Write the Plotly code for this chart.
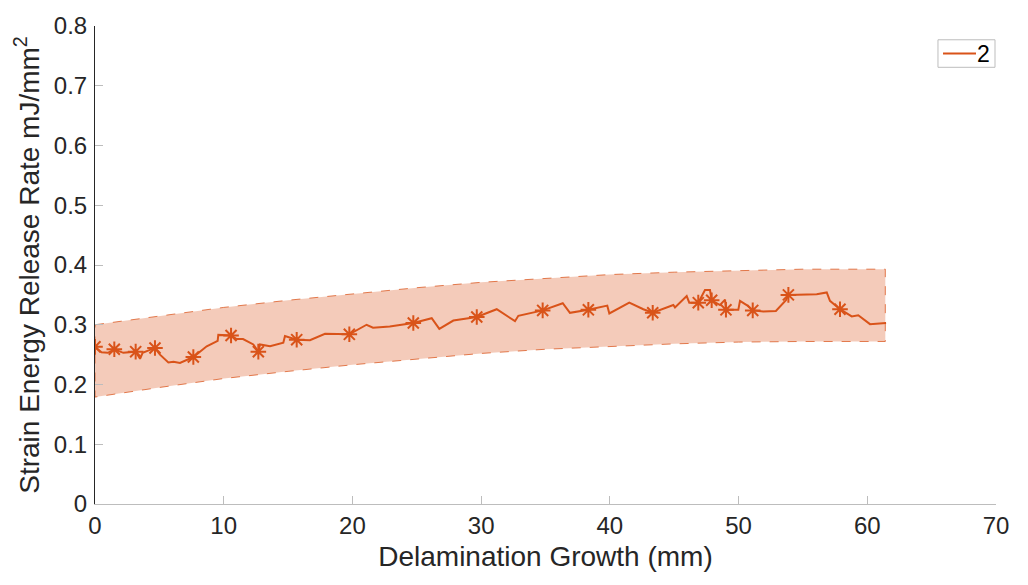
import plotly.graph_objects as go

# Band (upper / lower bounds)
band_x = [0, 5, 10, 15, 20, 25, 30, 35, 40, 45, 50, 55, 61.4]
band_upper = [0.300, 0.315, 0.329, 0.341, 0.352, 0.362, 0.371, 0.378, 0.384, 0.388, 0.391, 0.393, 0.393]
band_lower = [0.179, 0.195, 0.210, 0.222, 0.233, 0.243, 0.252, 0.259, 0.264, 0.268, 0.271, 0.272, 0.272]

# Measured series "2"
line_x = [0.0, 0.5, 1.0, 1.5, 2.2, 3.16, 3.5, 3.7, 4.27, 4.66, 5.05, 5.7, 6.1, 6.6, 7.64,
          8.68, 9.53, 9.58, 10.57, 11.0, 11.5, 12.3, 12.69, 12.82, 13.6, 14.63, 14.76, 15.67,
          16.7, 17.87, 19.76, 21.1, 21.6, 22.9, 24.73, 26.16, 26.75, 27.84, 29.66, 31.21,
          32.63, 32.89, 34.78, 36.34, 36.9, 38.33, 39.8, 39.96, 41.51, 42.6, 43.33, 44.93,
          45.06, 45.97, 46.17, 46.87, 47.39, 47.78, 47.91, 48.56, 48.95, 49.02, 49.98, 50.11,
          50.63, 51.1, 51.92, 52.9, 53.68, 53.87, 56.07, 56.85, 57.1, 57.88, 58.79, 59.3,
          60.21, 61.46]
line_y = [0.263, 0.254, 0.253, 0.259, 0.253, 0.255, 0.243, 0.253, 0.258, 0.261, 0.250, 0.237,
          0.238, 0.236, 0.246, 0.264, 0.273, 0.283, 0.282, 0.276, 0.276, 0.267, 0.255, 0.267,
          0.264, 0.270, 0.281, 0.275, 0.274, 0.285, 0.284, 0.300, 0.295, 0.297, 0.303, 0.311,
          0.293, 0.307, 0.313, 0.326, 0.306, 0.315, 0.324, 0.336, 0.320, 0.325, 0.332, 0.319,
          0.337, 0.326, 0.320, 0.333, 0.329, 0.348, 0.337, 0.337, 0.358, 0.358, 0.341, 0.333,
          0.342, 0.325, 0.325, 0.340, 0.333, 0.324, 0.322, 0.323, 0.341, 0.350, 0.351, 0.354,
          0.340, 0.326, 0.314, 0.316, 0.301, 0.303]

marker_x = [0.0, 1.5, 3.16, 4.66, 7.64, 10.57, 12.69, 15.67, 19.76, 24.73, 29.66, 34.78,
            38.33, 43.33, 46.87, 47.91, 49.02, 51.1, 53.87, 57.88]
marker_y = [0.263, 0.259, 0.255, 0.261, 0.246, 0.282, 0.255, 0.275, 0.284, 0.303, 0.313, 0.324,
            0.325, 0.320, 0.337, 0.341, 0.325, 0.324, 0.350, 0.326]

x_ticks = [0, 10, 20, 30, 40, 50, 60, 70]
y_ticks = [0, 0.1, 0.2, 0.3, 0.4, 0.5, 0.6, 0.7, 0.8]
y_tick_labels = ["0", "0.1", "0.2", "0.3", "0.4", "0.5", "0.6", "0.7", "0.8"]
legend_label = "2"

ORANGE = "#D95319"
FONT = "Liberation Sans, Arial, sans-serif"

fig = go.Figure()

poly_x = band_x + band_x[::-1] + [band_x[0]]
poly_y = band_upper + band_lower[::-1] + [band_upper[0]]
fig.add_trace(go.Scatter(
    x=poly_x, y=poly_y, mode="lines", fill="toself",
    fillcolor="rgba(217,83,25,0.3)",
    line=dict(color="rgba(217,83,25,0.75)", width=1, dash="dash"),
    showlegend=False, hoverinfo="skip"))

fig.add_trace(go.Scatter(
    x=line_x, y=line_y, mode="lines", name=legend_label,
    line=dict(color=ORANGE, width=2), showlegend=False))

fig.add_trace(go.Scatter(
    x=marker_x, y=marker_y, mode="markers", showlegend=False,
    marker=dict(symbol="asterisk-open", size=13, color=ORANGE,
                line=dict(color=ORANGE, width=2))))

# Legend box (compact, MATLAB-like)
fig.add_shape(type="rect", xref="paper", yref="paper",
              x0=0.9356, x1=0.9989, y0=0.9136, y1=0.9712,
              line=dict(color="#BDBDBD", width=1), fillcolor="white")
fig.add_shape(type="line", xref="paper", yref="paper",
              x0=0.9412, x1=0.9778, y0=0.9424, y1=0.9424,
              line=dict(color=ORANGE, width=2))
fig.add_annotation(xref="paper", yref="paper", x=0.9856, y=0.9424,
                   xanchor="center", yanchor="middle",
                   text=legend_label, showarrow=False,
                   font=dict(size=23, color="#000000"))

fig.update_layout(
    width=1028, height=585,
    margin=dict(l=95, r=32, t=18, b=81),
    paper_bgcolor="white", plot_bgcolor="white",
    font=dict(family=FONT, size=23, color="#262626"),
    xaxis=dict(range=[0, 70], tickvals=x_ticks, showgrid=False, zeroline=False,
               showline=True, linecolor="#BDBDBD", linewidth=1,
               ticks="inside", ticklen=8, tickcolor="#BDBDBD",
               title=dict(text="Delamination Growth (mm)", font=dict(size=28), standoff=8),
               tickfont=dict(size=24)),
    yaxis=dict(range=[0, 0.8], tickvals=y_ticks, ticktext=y_tick_labels,
               showgrid=False, zeroline=False,
               showline=True, linecolor="#262626", linewidth=1,
               ticks="inside", ticklen=8, tickcolor="#BDBDBD",
               ticklabelstandoff=2,
               title=dict(text="Strain Energy Release Rate mJ/mm<sup>2</sup>",
                          font=dict(size=28), standoff=6),
               tickfont=dict(size=24)),
)

fig.write_html("out.html")
